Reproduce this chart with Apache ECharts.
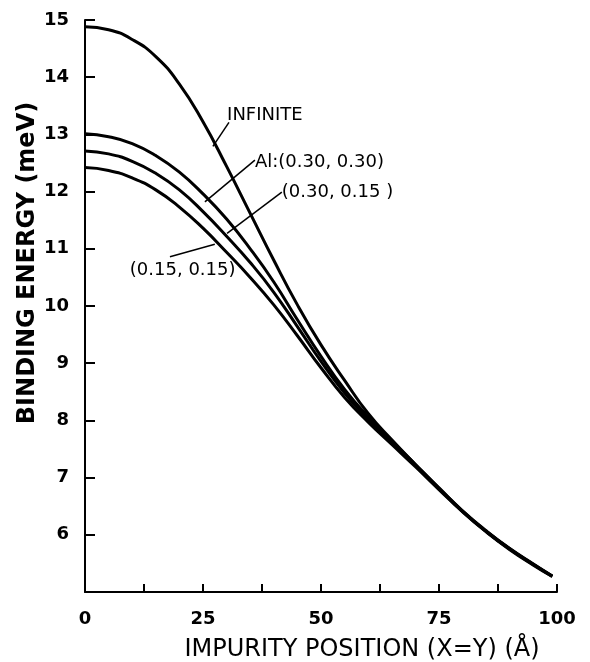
<!DOCTYPE html>
<html>
<head>
<meta charset="utf-8">
<script src="https://cdn.jsdelivr.net/npm/echarts@6/dist/echarts.min.js"></script>
<style>
  html, body { margin: 0; padding: 0; background: #fff; }
  #chart { width: 590px; height: 662px; }
</style>
</head>
<body>
<div id="chart"></div>
<script>
// impurity position (A), shared by all curves
var positions = [0, 5, 10, 15, 20, 25, 30, 35, 40, 45, 50, 55, 60, 65, 70, 75, 80, 85, 90, 95, 99];

// binding energy (meV)
var infinite = [14.88, 14.83, 14.66, 14.36, 13.88, 13.22, 12.44, 11.62, 10.80, 10.02, 9.32, 8.70, 8.12, 7.66, 7.23, 6.81, 6.41, 6.06, 5.75, 5.48, 5.28];
var al3030   = [13.01, 12.96, 12.84, 12.63, 12.34, 11.96, 11.52, 11.00, 10.42, 9.76, 9.12, 8.54, 8.06, 7.64, 7.23, 6.82, 6.42, 6.07, 5.76, 5.49, 5.28];
var al3015   = [12.71, 12.66, 12.53, 12.32, 12.03, 11.65, 11.22, 10.76, 10.24, 9.64, 9.03, 8.48, 8.02, 7.62, 7.22, 6.81, 6.41, 6.06, 5.75, 5.48, 5.27];
var al1515   = [12.42, 12.37, 12.24, 12.03, 11.73, 11.36, 10.94, 10.50, 10.02, 9.48, 8.92, 8.40, 7.97, 7.58, 7.19, 6.79, 6.40, 6.05, 5.74, 5.47, 5.27];

var xLabels = [0, 25, 50, 75, 100];

// curve labels: text anchor, pointer start, pointer end (data coords)
var notes = [
  { text: 'INFINITE',        at: [30.1, 13.33], from: [30.5, 13.21], to: [27.1, 12.79] },
  { text: 'Al:(0.30, 0.30)', at: [36.0, 12.51], from: [36.0, 12.55], to: [25.4, 11.82] },
  { text: '(0.30, 0.15 )',   at: [41.7, 11.99], from: [41.7, 11.99], to: [30.1, 11.27] },
  { text: '(0.15, 0.15)',    at: [9.5, 10.63],  from: [18.0, 10.86], to: [27.5, 11.08] }
];

function pairs(ys) {
  return positions.map(function (x, i) { return [x, ys[i]]; });
}

function curve(name, ys) {
  return {
    name: name,
    type: 'line',
    smooth: true,
    showSymbol: false,
    silent: true,
    lineStyle: { color: '#000', width: 3 },
    data: pairs(ys)
  };
}

var chart = echarts.init(document.getElementById('chart'));

var option = {
  animation: false,
  backgroundColor: '#fff',
  grid: { left: 85, right: 33, top: 20, bottom: 70, outerBoundsMode: 'none', containLabel: false },
  xAxis: {
    type: 'value',
    min: 0,
    max: 100,
    interval: 12.5,
    name: 'IMPURITY POSITION (X=Y) (Å)',
    nameLocation: 'middle',
    nameGap: 46,
    nameMoveOverlap: false,
    nameTextStyle: { fontFamily: 'DejaVu Sans', fontSize: 24, color: '#000', padding: [0, 0, 0, 82] },
    axisLine: { lineStyle: { color: '#000', width: 2 } },
    axisTick: { inside: true, length: 8, lineStyle: { color: '#000', width: 2 } },
    axisLabel: {
      margin: 18,
      fontFamily: 'DejaVu Sans',
      fontSize: 18,
      fontWeight: 'bold',
      color: '#000',
      formatter: function (v) { return xLabels.indexOf(v) >= 0 ? String(v) : ''; }
    },
    splitLine: { show: false }
  },
  yAxis: {
    type: 'value',
    min: 5,
    max: 15,
    interval: 1,
    name: 'BINDING ENERGY (meV)',
    nameLocation: 'middle',
    nameGap: 45,
    nameMoveOverlap: false,
    nameTextStyle: { fontFamily: 'DejaVu Sans', fontSize: 24, fontWeight: 'bold', color: '#000', padding: [0, 0, 0, 86] },
    axisLine: { show: true, lineStyle: { color: '#000', width: 2 } },
    axisTick: { show: true, inside: true, length: 10, lineStyle: { color: '#000', width: 2 } },
    axisLabel: {
      margin: 16,
      fontFamily: 'DejaVu Sans',
      fontSize: 18,
      fontWeight: 'bold',
      color: '#000',
      formatter: function (v) { return v === 5 ? '' : String(v); }
    },
    splitLine: { show: false }
  },
  series: [
    curve('INFINITE', infinite),
    curve('(0.30,0.30)', al3030),
    curve('(0.30,0.15)', al3015),
    curve('(0.15,0.15)', al1515)
  ]
};

chart.setOption(option);

// place the curve labels and their pointer lines
var graphics = [];
notes.forEach(function (n) {
  var p = chart.convertToPixel({ gridIndex: 0 }, n.at);
  var a = chart.convertToPixel({ gridIndex: 0 }, n.from);
  var b = chart.convertToPixel({ gridIndex: 0 }, n.to);
  graphics.push({
    type: 'line',
    silent: true,
    shape: { x1: a[0], y1: a[1], x2: b[0], y2: b[1] },
    style: { stroke: '#000', lineWidth: 1.5 }
  });
  graphics.push({
    type: 'text',
    silent: true,
    x: p[0],
    y: p[1],
    style: {
      text: n.text,
      fill: '#000',
      font: '18px "DejaVu Sans"',
      textAlign: 'left',
      textVerticalAlign: 'middle'
    }
  });
});
chart.setOption({ graphic: graphics });
</script>
</body>
</html>
